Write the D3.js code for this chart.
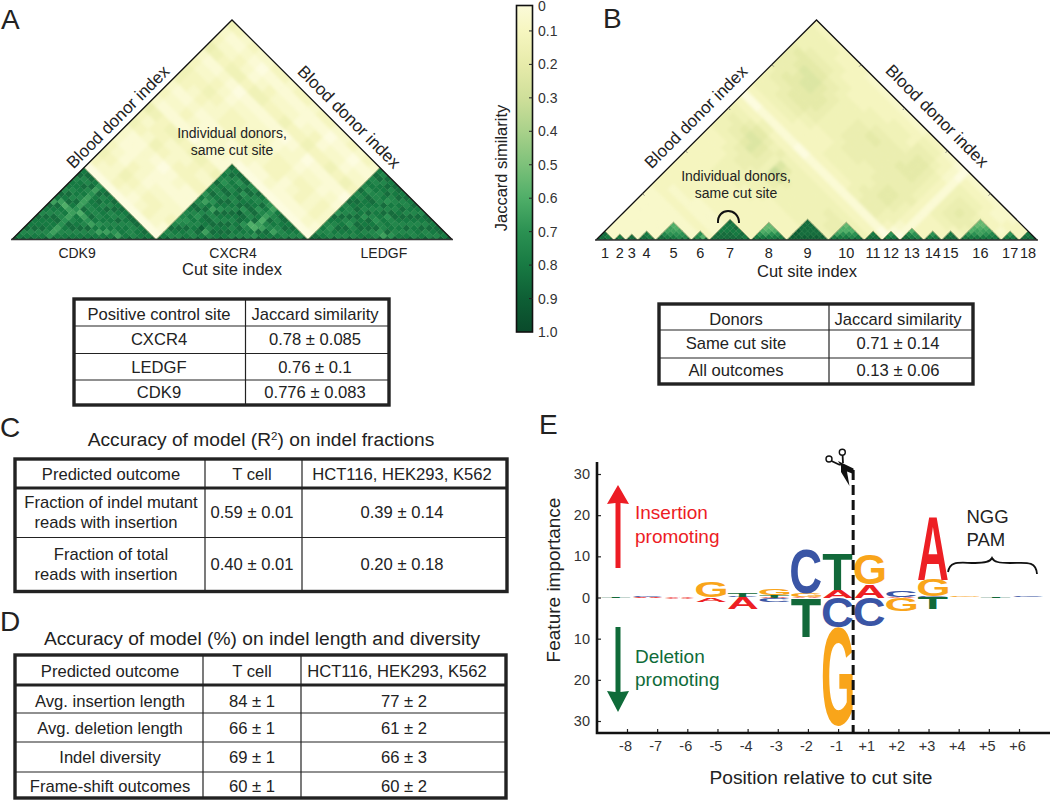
<!DOCTYPE html>
<meta charset="utf-8">
<style>
body { margin: 0; background: #fff; }
svg { display: block; }
text { font-family: "Liberation Sans", Arial, sans-serif; fill: #222; }
.tcell { font-size: 16.6px; dominant-baseline: central; text-anchor: middle; }
.tick text { font-size: 14.5px; fill: #333; font-family: "Liberation Sans", Arial, sans-serif; }
</style>
<body>
<div id="main"></div>
<script src="https://d3js.org/d3.v7.min.js"></script>
<script>
// colour bar stops
var simStops = [0, 0.1, 0.2, 0.3, 0.4, 0.5, 0.6, 0.7, 0.8, 0.9, 1];
var simColors = ["#fdfce0", "#f6f6c0", "#e7ebaa", "#cfdf9a", "#a9d18a", "#7dc17a", "#4fae68", "#2b9152", "#187a43", "#0e5f35", "#0a4a2b"];
var barTicks = [0, 0.1, 0.2, 0.3, 0.4, 0.5, 0.6, 0.7, 0.8, 0.9, 1];

// heatmap cells are one digit each. pale = cross-site background, dark = same-site triangles
var paleStep = 0.035, darkBase = 0.45, darkStep = 0.05;

// panel A, 58 donors-by-site columns
var siteNamesA = ["CDK9", "CXCR4", "LEDGF"];
var siteSizesA = [19, 20, 19];
var paleA = [ // 2 donor resolution, row i starts at column i
  "0000000000 3432243523 244325324",
  "000000000 2321132412 133214213",
  "00000000 2211123312 123213212",
  "0000000 3432243413 234324323",
  "000000 2322132412 123214212",
  "00000 1211022301 122103102",
  "0000 2321132412 133214213",
  "000 3321233412 233214313",
  "00 2221132312 132213212",
  "0 1321132411 133213213",
  "0000000000 233214213",
  "000000000 122103112",
  "00000000 133213213",
  "0000000 233224313",
  "000000 112103102",
  "00000 123213212",
  "0000 133214213",
  "000 122113102",
  "00 233214213",
  "0 122103212"
];
var cdk9Rows = ["9768778678478677687", "976877867847867768", "97687786738677868", "8767786747867687", "954455445444545",
  "97678673867787", "8768774767868", "976865867677", "87684767868", "9767577687", "974767678", "87476867",
  "9757678", "947768", "87668", "9677", "878", "97", "9"];
var cxcr4Rows = ["97686566786757686768", "9678657686468675687", "867867568757686768", "97676786478686758", "8689786857867868",
  "974686786768586", "96878678687686", "8787867958768", "978678868767", "86785768586", "9676387675", "967343454",
  "85846867", "9786768", "874678", "97687", "8678", "967", "86", "9"];
var ledgfRows = ["9867678576876867687", "976567866786757686", "86787686877867768", "9678568767866787", "867687586767868",
  "96787867685678", "8768757867687", "976867586768", "86567687867", "9487678678", "856767867", "97686786",
  "8767678", "967868", "87687", "9678", "868", "97", "9"];

// panel B, 18 cut sites
var siteNamesB = ["1", "2", "3", "4", "5", "6", "7", "8", "9", "10", "11", "12", "13", "14", "15", "16", "17", "18"];
var siteSizesB = [3, 2, 2, 3, 6, 3, 7, 6, 7, 6, 3, 3, 4, 3, 3, 7, 3, 3];
var sideTicksB = [7.8, 15, 22.2, 29.5];
var paleB = [
  "2222222223 3333333334 4443034445 5554443",
  "222222223 3333333334 4543034455 5564443",
  "22222223 2333333334 5543034456 5665443",
  "2222223 2333333344 5653134556 6765443",
  "222223 2333344445 6764134566 7765443",
  "22223 2233344455 7764134566 7765433",
  "2223 2233334455 6653134566 6654433",
  "223 2233334445 5543133456 6554333",
  "23 2233333444 4453133455 5544333",
  "3 2233334446 9743033344 4443332",
  "2233333445 8643033344 4443332",
  "233333344 5443133344 4443332",
  "33333344 4443134445 5544332",
  "3333344 4443134455 5544332",
  "333344 4443134455 5654332",
  "33344 4443134455 5654432",
  "3344 4443134445 5554432",
  "344 4543144445 5554432",
  "44 5543145455 5554332",
  "4 5543155555 5655543",
  "5543155665 5666543",
  "543155665 5666543",
  "43144555 5555432",
  "3034445 4444332",
  "012333 3333221",
  "01111 1111100",
  "3333 4444432",
  "333 4555432",
  "33 4565432",
  "3 3555432",
  "3454332",
  "344322",
  "33322",
  "3232",
  "333",
  "33",
  "3"
];
var siteRowsB = [
  ["988", "97", "9"],
  ["97", "9"],
  ["98", "9"],
  ["987", "97", "9"],
  ["986443", "97543", "9754", "865", "96", "9"],
  ["965", "83", "9"],
  ["9887778", "988777", "98878", "9877", "988", "97", "9"],
  ["975322", "97432", "9753", "875", "97", "9"],
  ["9999888", "998888", "99888", "9988", "998", "99", "9"],
  ["974332", "97533", "8753", "965", "97", "9"],
  ["987", "98", "9"],
  ["975", "97", "9"],
  ["9863", "975", "96", "9"],
  ["975", "97", "9"],
  ["987", "98", "9"],
  ["9753322", "975432", "97443", "9754", "976", "97", "9"],
  ["975", "97", "9"],
  ["987", "98", "9"]
];

// tables
var tableAHead = ["Positive control site", "Jaccard similarity"];
var tableARows = [["CXCR4", "0.78 ± 0.085"], ["LEDGF", "0.76 ± 0.1"], ["CDK9", "0.776 ± 0.083"]];
var tableBHead = ["Donors", "Jaccard similarity"];
var tableBRows = [["Same cut site", "0.71 ± 0.14"], ["All outcomes", "0.13 ± 0.06"]];
var tableCHead = ["Predicted outcome", "T cell", "HCT116, HEK293, K562"];
var tableCRows = [["Fraction of indel mutant|reads with insertion", "0.59 ± 0.01", "0.39 ± 0.14"],
  ["Fraction of total|reads with insertion", "0.40 ± 0.01", "0.20 ± 0.18"]];
var tableDHead = ["Predicted outcome", "T cell", "HCT116, HEK293, K562"];
var tableDRows = [["Avg. insertion length", "84 ± 1", "77 ± 2"], ["Avg. deletion length", "66 ± 1", "61 ± 2"],
  ["Indel diversity", "69 ± 1", "66 ± 3"], ["Frame-shift outcomes", "60 ± 1", "60 ± 2"]];

// panel E, sequence logo: [position, letter, height], stacked outward from zero
var logoPositions = ["-8", "-7", "-6", "-5", "-4", "-3", "-2", "-1", "+1", "+2", "+3", "+4", "+5", "+6"];
var logoUp = [["-8", "T", 0.15], ["-8", "G", 0.1], ["-7", "A", 0.2], ["-7", "C", 0.3], ["-6", "A", 0.2], ["-6", "T", 0.1],
  ["-5", "G", 3.8], ["-4", "C", 0.2], ["-4", "T", 0.9], ["-3", "T", 0.5], ["-3", "G", 1.6], ["-2", "G", 1], ["-2", "C", 10.7],
  ["-1", "A", 1.9], ["-1", "T", 8.8], ["+1", "A", 3.2], ["+1", "G", 7.3], ["+2", "A", 0.2], ["+2", "C", 1.5],
  ["+3", "C", 0.2], ["+3", "G", 4], ["+3", "A", 15.5], ["+4", "G", 0.3], ["+5", "T", 0.12], ["+6", "C", 0.12]];
var logoDown = [["-8", "G", 0.1], ["-7", "A", 0.15], ["-6", "A", 0.25], ["-5", "A", 1], ["-4", "A", 2.8], ["-3", "A", 0.2], ["-3", "C", 0.8],
  ["-2", "A", 0.2], ["-2", "T", 9.4], ["-1", "C", 7.3], ["-1", "G", 24], ["+1", "C", 7.1], ["+2", "A", 0.1], ["+2", "G", 3.3],
  ["+3", "C", 0.2], ["+3", "T", 2.7], ["+5", "T", 0.1]];
var letterColors = { A: "#ed1f24", C: "#3a55a5", G: "#f9a51a", T: "#12693a" };
var importanceTicks = [-30, -20, -10, 0, 10, 20, 30];

var svg = d3.select("#main").append("svg").attr("width", 1050).attr("height", 802);
var defs = svg.append("defs");
defs.append("filter").attr("id", "blurPale").attr("x", "-5%").attr("y", "-5%").attr("width", "110%").attr("height", "110%")
  .append("feGaussianBlur").attr("stdDeviation", 1.4);
defs.append("filter").attr("id", "blurDark").attr("x", "-5%").attr("y", "-5%").attr("width", "110%").attr("height", "110%")
  .append("feGaussianBlur").attr("stdDeviation", 0.7);

var simColor = d3.scaleLinear().domain(simStops).range(simColors).clamp(true);

function addText(parent, x, y, str, size, opts) {
  opts = opts || {};
  return parent.append("text").attr("x", x).attr("y", y).text(str)
    .style("font-size", size + "px")
    .style("text-anchor", opts.anchor || "middle")
    .style("fill", opts.fill || "#222")
    .attr("transform", opts.rotate ? "rotate(" + opts.rotate + "," + x + "," + y + ")" : null);
}

// one triangle heatmap. cells are rotated squares placed by donor index
function drawCells(g, rows, start, unit, toValue, x, y) {
  rows.forEach(function(row, i) {
    row.replace(/ /g, "").split("").forEach(function(c, k) {
      var j = i + k;
      var a = start + unit * i, b = start + unit * j + unit - 1;
      var cx = (a + b + 1) / 2, cy = (b - a) / 2, h = unit / 2;
      var pts = [[cx, cy - h], [cx + h, cy], [cx, cy + h], [cx - h, cy]]
        .map(function(p) { return x(p[0]) + "," + y(p[1]); }).join(" ");
      var col = simColor(toValue(+c));
      g.append("polygon").attr("points", pts).attr("fill", col).attr("stroke", col).attr("stroke-width", 0.4);
    });
  });
}

function paleValue(d) { return d * paleStep; }
function darkValue(d) { return darkBase + d * darkStep; }

function drawTriangle(id, x0, x1, apexY, baseY, sizes, paleRows, darkRows) {
  var n = d3.sum(sizes);
  var x = d3.scaleLinear().domain([0, n]).range([x0, x1]);
  var y = d3.scaleLinear().domain([0, n / 2]).range([baseY, apexY]);
  var outline = [[0, 0], [n / 2, n / 2], [n, 0]].map(function(p) { return [x(p[0]), y(p[1])]; });

  defs.append("clipPath").attr("id", id).append("polygon").attr("points", outline.join(" "));
  var g = svg.append("g").attr("clip-path", "url(#" + id + ")");
  g.append("polygon").attr("points", outline.join(" ")).attr("fill", simColor(0.08));

  drawCells(g.append("g").attr("filter", "url(#blurPale)"), paleRows, 0, 2, paleValue, x, y);

  var dark = g.append("g").attr("filter", "url(#blurDark)");
  var start = 0;
  sizes.forEach(function(size, s) {
    drawCells(dark, darkRows[s], start, 1, darkValue, x, y);
    var tip = [[start, 0], [start + size / 2, size / 2], [start + size, 0]]
      .map(function(p) { return [x(p[0]), y(p[1])]; });
    g.append("path").attr("d", d3.line()(tip)).attr("fill", "none").attr("stroke", "#b3ae80").attr("stroke-width", 1).attr("opacity", 0.8);
    start += size;
  });

  svg.append("path").attr("d", d3.line()(outline)).attr("fill", "none").attr("stroke", "#111").attr("stroke-width", 1.3);
  svg.append("line").attr("x1", x0 - 1).attr("x2", x1 + 1).attr("y1", baseY).attr("y2", baseY).attr("stroke", "#333").attr("stroke-width", 1.4);
  return { x: x, y: y, n: n };
}

function siteCenters(sizes, x) {
  var start = 0;
  return sizes.map(function(size) {
    var c = x(start + size / 2);
    start += size;
    return c;
  });
}

// --- panel A
addText(svg, 1, 29, "A", 28, { anchor: "start" });
var triA = drawTriangle("triA", 12, 452, 20, 239.5, siteSizesA, paleA, [cdk9Rows, cxcr4Rows, ledgfRows]);
var shiftA = [-7, 1, 4];
siteCenters(siteSizesA, triA.x).forEach(function(c, i) {
  addText(svg, c + shiftA[i], 258, siteNamesA[i], 14);
});
addText(svg, 232, 275, "Cut site index", 16.5);
addText(svg, 122, 121, "Blood donor index", 17, { rotate: -45 });
addText(svg, 345, 121, "Blood donor index", 17, { rotate: 45 });
addText(svg, 232, 138, "Individual donors,", 14);
addText(svg, 232, 155, "same cut site", 14);

// --- panel B
addText(svg, 603, 28, "B", 28, { anchor: "start" });
var triB = drawTriangle("triB", 596, 1037, 20, 240, siteSizesB, paleB, siteRowsB);
sideTicksB.forEach(function(u) {
  [[triB.x(u), 2], [triB.x(triB.n - u), -2]].forEach(function(p) {
    svg.append("line").attr("x1", p[0]).attr("y1", triB.y(u)).attr("x2", p[0] + p[1]).attr("y2", triB.y(u) + 2)
      .attr("stroke", "#777").attr("stroke-width", 0.8);
  });
});
siteCenters(siteSizesB, triB.x).forEach(function(c, i) {
  addText(svg, c, 258, siteNamesB[i], 14.5);
});
addText(svg, 807, 277, "Cut site index", 16.5);
addText(svg, 700, 121, "Blood donor index", 17, { rotate: -45 });
addText(svg, 933, 120, "Blood donor index", 17, { rotate: 45 });
addText(svg, 736, 181, "Individual donors,", 14);
addText(svg, 736, 198, "same cut site", 14);
svg.append("path").attr("d", "M718,223 C717,207 739,207 739,223").attr("fill", "none").attr("stroke", "#111").attr("stroke-width", 2);

// --- colour bar
var barY = d3.scaleLinear().domain([0, 1]).range([-2.5, 332]);
var grad = defs.append("linearGradient").attr("id", "simGrad").attr("gradientUnits", "userSpaceOnUse")
  .attr("x1", 0).attr("x2", 0).attr("y1", barY(0)).attr("y2", barY(1));
simStops.forEach(function(s, i) {
  grad.append("stop").attr("offset", s).attr("stop-color", simColors[i]);
});
svg.append("rect").attr("x", 516.5).attr("y", 5.5).attr("width", 16).attr("height", 326.5)
  .attr("fill", "url(#simGrad)").attr("stroke", "#111").attr("stroke-width", 1.6);
barTicks.forEach(function(v) {
  var yy = Math.max(barY(v), 5.5);
  if (v > 0 && v < 1) svg.append("line").attr("x1", 529).attr("x2", 533).attr("y1", yy).attr("y2", yy).attr("stroke", "#222");
  addText(svg, 538, yy + 5, v === 0 ? "0" : v.toFixed(1), 14, { anchor: "start", fill: "#333" });
});
addText(svg, 507, 168, "Jaccard similarity", 16.5, { rotate: -90 });

// --- tables
function drawTable(t) {
  var g = svg.append("g");
  t.cols.forEach(function(cx) {
    g.append("line").attr("x1", cx).attr("x2", cx).attr("y1", t.top).attr("y2", t.bottom).attr("stroke", "#222").attr("stroke-width", 1.2);
  });
  t.lines.forEach(function(ly, i) {
    g.append("line").attr("x1", t.left).attr("x2", t.right).attr("y1", ly).attr("y2", ly)
      .attr("stroke", "#222").attr("stroke-width", (t.thick && i === 0) ? 3 : 1.2);
  });
  g.append("rect").attr("x", t.left).attr("y", t.top).attr("width", t.right - t.left).attr("height", t.bottom - t.top)
    .attr("fill", "none").attr("stroke", "#222").attr("stroke-width", 3.4);
  [t.head].concat(t.rows).forEach(function(row, r) {
    row.forEach(function(cell, c) {
      var parts = cell.split("|");
      var cx = (r === 0 && t.headCenters) ? t.headCenters[c] : t.centers[c];
      parts.forEach(function(p, k) {
        var yy = t.rowY[r] + (k - (parts.length - 1) / 2) * 20;
        var dx = k === 1 ? -5 : 0;
        g.append("text").attr("class", "tcell").attr("x", cx + dx).attr("y", yy).text(p);
      });
    });
  });
}

drawTable({ left: 74, right: 389, top: 299, bottom: 405, cols: [245.5], lines: [326, 353.5, 380],
  centers: [159, 315], rowY: [314, 339, 367, 392], head: tableAHead, rows: tableARows });
drawTable({ left: 659, right: 973, top: 304, bottom: 384, cols: [829], lines: [330, 358],
  centers: [736, 898], rowY: [319, 343, 370], head: tableBHead, rows: tableBRows });

addText(svg, 0, 437, "C", 28, { anchor: "start" });
var titleC = addText(svg, 261, 446, "Accuracy of model (R", 19.2);
titleC.append("tspan").attr("dy", -6).style("font-size", "11.5px").text("2");
titleC.append("tspan").attr("dy", 6).text(") on indel fractions");
drawTable({ left: 15, right: 507, top: 459, bottom: 591.5, cols: [205, 302], lines: [488, 537.5], thick: true,
  centers: [111, 252, 402], rowY: [474, 512, 564], head: tableCHead, rows: tableCRows });

addText(svg, 0, 631, "D", 28, { anchor: "start" });
addText(svg, 262, 645, "Accuracy of model (%) on indel length and diversity", 19.2);
drawTable({ left: 15, right: 506, top: 655, bottom: 798, cols: [203, 301], lines: [685, 713, 742, 772], thick: true,
  centers: [110, 252, 404], headCenters: [110, 252, 397], rowY: [671, 701, 728, 757, 786], head: tableDHead, rows: tableDRows });

// --- panel E
addText(svg, 539, 434, "E", 28, { anchor: "start" });
var tickX = d3.scalePoint().domain(logoPositions).range([627, 1019]);
var logoX = d3.scalePoint().domain(logoPositions).range([616, 1028]);
var impY = d3.scaleLinear().domain([-30, 30]).range([721, 474]);

var inkCanvas = document.createElement("canvas").getContext("2d");
inkCanvas.font = "bold 100px 'Liberation Sans'";
function ink(letter) {
  var m = inkCanvas.measureText(letter);
  return { left: m.actualBoundingBoxLeft, right: m.actualBoundingBoxRight, up: m.actualBoundingBoxAscent, down: m.actualBoundingBoxDescent };
}

function drawStack(list, sign) {
  var offset = {};
  list.forEach(function(d) {
    var from = offset[d[0]] || 0, to = from + d[2];
    offset[d[0]] = to;
    var bottom = sign > 0 ? impY(from) : impY(-to);
    var top = sign > 0 ? impY(to) : impY(-from);
    var box = ink(d[1]);
    var w = 30, h = bottom - top;
    var sx = w / (box.left + box.right), sy = h / (box.up + box.down);
    var tx = logoX(d[0]) - w / 2 + box.left * sx, ty = bottom - box.down * sy;
    svg.append("text").text(d[1])
      .attr("transform", "translate(" + tx + "," + ty + ") scale(" + sx + "," + sy + ")")
      .style("font", "bold 100px 'Liberation Sans'").style("fill", letterColors[d[1]]);
  });
}
drawStack(logoUp, 1);
drawStack(logoDown, -1);

var axisY = d3.axisLeft(impY).tickValues(importanceTicks).tickSize(-4).tickPadding(7)
  .tickFormat(function(d) { return Math.abs(d); });
var gy = svg.append("g").attr("transform", "translate(597,0)").call(axisY);
gy.select(".domain").remove();
var axisX = d3.axisBottom(tickX).tickSize(-4).tickPadding(8);
var gx = svg.append("g").attr("transform", "translate(0,733)").call(axisX);
gx.select(".domain").remove();
gx.selectAll(".tick text").attr("dx", -2);
svg.selectAll(".tick line").attr("stroke", "#222").attr("stroke-width", 1.2);
svg.append("path").attr("d", "M597,462V733H1050").attr("fill", "none").attr("stroke", "#111").attr("stroke-width", 2.6);

var cutX = (tickX("-1") + tickX("+1")) / 2;
svg.append("line").attr("x1", cutX).attr("x2", cutX).attr("y1", impY(31)).attr("y2", 733)
  .attr("stroke", "#111").attr("stroke-width", 3).attr("stroke-dasharray", "10,5");

// scissors
var sc = svg.append("g").attr("stroke", "#111").attr("fill", "none");
sc.append("circle").attr("cx", 829).attr("cy", 459).attr("r", 3).attr("stroke-width", 1.4);
sc.append("circle").attr("cx", 842.3).attr("cy", 452.3).attr("r", 3).attr("stroke-width", 1.4);
sc.append("path").attr("d", "M831.5,461L840,465M842.6,455.5L843,463").attr("stroke-width", 1.8);
sc.append("path").attr("d", "M838,461L853.5,468.5V474L843,470Z").attr("fill", "#111").attr("stroke", "none");
sc.append("path").attr("d", "M841,463L846,466L849.5,486L841,472Z").attr("fill", "#111").attr("stroke", "none");

// arrows and notes
var red = "#ed1c24", green = "#0f6b39";
svg.append("path").attr("d", "M615.5,568V503L607,504L618,485L629,504L620.5,503V568Z").attr("fill", red);
svg.append("path").attr("d", "M615.5,627V692L607,691L618,712L629,691L620.5,692V627Z").attr("fill", green);
addText(svg, 635, 519, "Insertion", 19, { anchor: "start", fill: red });
addText(svg, 635, 543, "promoting", 19, { anchor: "start", fill: red });
addText(svg, 635, 663, "Deletion", 19, { anchor: "start", fill: green });
addText(svg, 635, 686, "promoting", 19, { anchor: "start", fill: green });
addText(svg, 966.5, 523, "NGG", 18.5, { anchor: "start" });
addText(svg, 966.5, 546, "PAM", 18.5, { anchor: "start" });
svg.append("path").attr("d", "M948,572C950,560 960,563 975,563C985,563 990,562 992,558C994,562 999,563 1010,563C1025,563 1036,560 1037,574")
  .attr("fill", "none").attr("stroke", "#111").attr("stroke-width", 1.8);

addText(svg, 560, 580, "Feature importance", 19, { rotate: -90 });
addText(svg, 821, 784, "Position relative to cut site", 19.2);
</script>
</body>
